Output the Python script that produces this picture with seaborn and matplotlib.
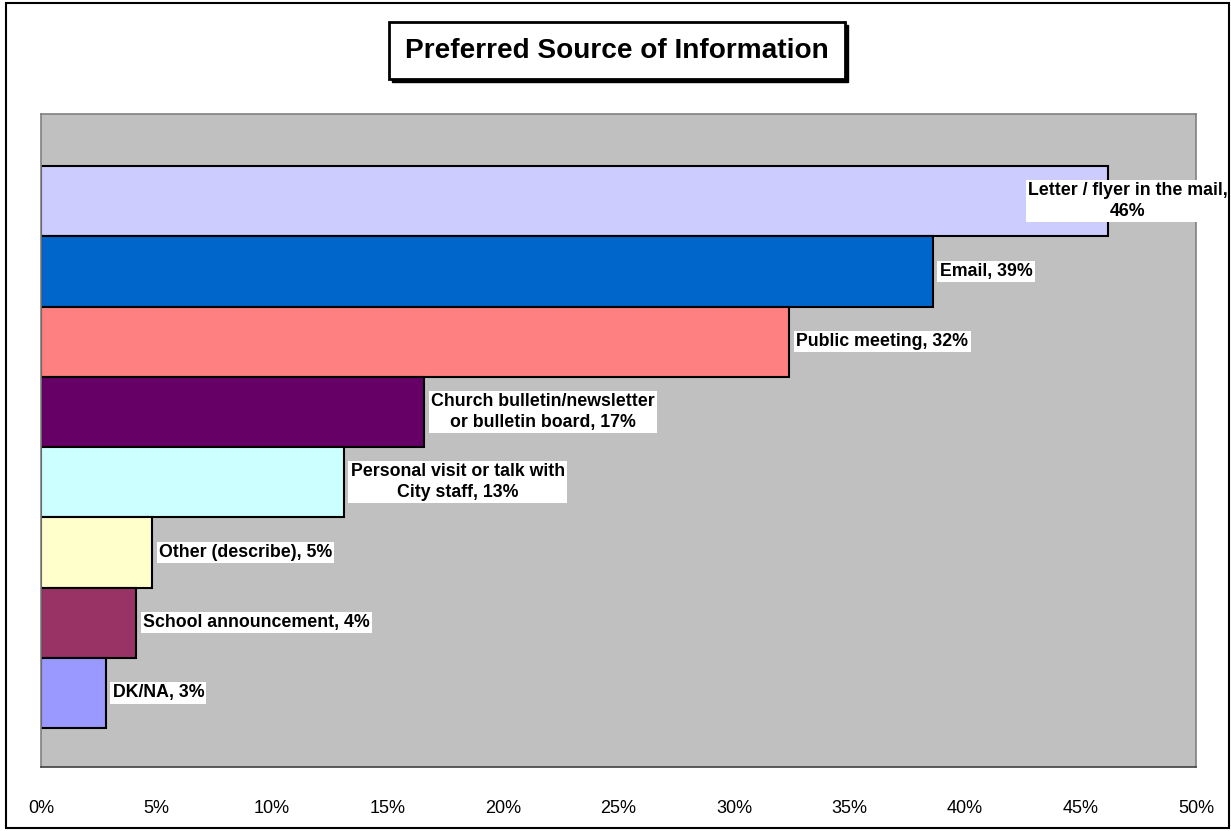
import pandas as pd
import matplotlib.pyplot as plt
import matplotlib.patches as mpatches
import seaborn as sns

# Chart data
sources = ['Letter / flyer in the mail', 'Email', 'Public meeting',
           'Church bulletin/newsletter or bulletin board',
           'Personal visit or talk with City staff', 'Other (describe)',
           'School announcement', 'DK/NA']
percent = [46.2, 38.6, 32.4, 16.6, 13.1, 4.8, 4.1, 2.8]
bar_labels = ['Letter / flyer in the mail,\n46%', 'Email, 39%', 'Public meeting, 32%',
              'Church bulletin/newsletter\nor bulletin board, 17%',
              'Personal visit or talk with\nCity staff, 13%', 'Other (describe), 5%',
              'School announcement, 4%', 'DK/NA, 3%']
bar_colors = ['#CCCCFF', '#0066CC', '#FF8080', '#660066',
              '#CCFFFF', '#FFFFCC', '#993366', '#9999FF']
x_ticks = [0, 5, 10, 15, 20, 25, 30, 35, 40, 45, 50]

df = pd.DataFrame({'source': sources, 'percent': percent})

sns.set_style('white')
plt.rcParams['font.family'] = ['Liberation Sans', 'DejaVu Sans']
plt.rcParams['text.color'] = 'black'
plt.rcParams['xtick.color'] = 'black'

fig = plt.figure(figsize=(12.31, 8.31), dpi=100)
ax = fig.add_axes([0.0333, 0.0770, 0.9383, 0.7858])

sns.barplot(data=df, x='percent', y='source', hue='source', palette=bar_colors,
            legend=False, width=1.0, saturation=1, edgecolor='black', linewidth=1.5,
            orient='h', ax=ax)

ax.set_facecolor('#C0C0C0')
ax.set_xlim(0, 50)
ax.set_ylim(8.055, -1.24)
ax.set_xticks(x_ticks)
ax.set_xticklabels([f'{t}%' for t in x_ticks], fontsize=13)
ax.set_yticks([])
ax.set_xlabel('')
ax.set_ylabel('')
ax.tick_params(axis='x', direction='out', length=6, width=1, color='#404040', pad=18)
for side in ['top', 'right', 'left']:
    ax.spines[side].set_color('#808080')
    ax.spines[side].set_linewidth(1.2)
ax.spines['bottom'].set_color('#404040')
ax.spines['bottom'].set_linewidth(1.2)

# data labels next to bars
for i, (val, txt) in enumerate(zip(percent, bar_labels)):
    if i == 0:
        ha, dx = 'center', 14
    else:
        ha, dx = 'left', 5
    ax.annotate(txt, xy=(val, i), xytext=(dx, 0), textcoords='offset points',
                ha=ha, va='center', multialignment='center', fontsize=12.8,
                fontweight='bold', color='black', linespacing=1.3, annotation_clip=False,
                bbox=dict(boxstyle='square,pad=0.12', facecolor='white', edgecolor='none'))

# title box with shadow
W, H = 1231, 831
fig.patches.append(mpatches.Rectangle((392 / W, 1 - 82 / H), 456 / W, 57 / H,
                                      transform=fig.transFigure, facecolor='black',
                                      edgecolor='black', zorder=1))
fig.patches.append(mpatches.Rectangle((389 / W, 1 - 79 / H), 456 / W, 57 / H,
                                      transform=fig.transFigure, facecolor='white',
                                      edgecolor='black', linewidth=2, zorder=2))
fig.text(617 / W, 1 - 51 / H, 'Preferred Source of Information', ha='center', va='center',
         fontsize=20.2, fontweight='bold', color='black', zorder=3)

# outer chart border
fig.patches.append(mpatches.Rectangle((6 / W, 1 - 828 / H), 1223 / W, 825 / H,
                                      transform=fig.transFigure, facecolor='none',
                                      edgecolor='black', linewidth=1.5, zorder=0))

fig.savefig('out.png', dpi=100)
